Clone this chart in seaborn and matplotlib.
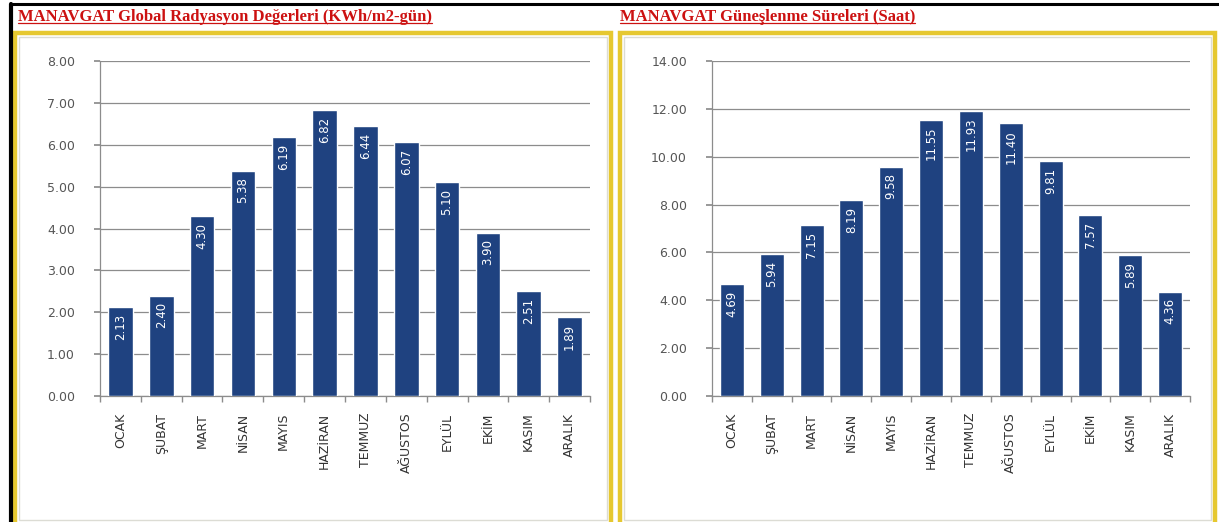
import numpy as np
import pandas as pd
import matplotlib
matplotlib.use("Agg")
import matplotlib.pyplot as plt
import seaborn as sns
from matplotlib.patches import Rectangle
from matplotlib.lines import Line2D

months = ["OCAK", "ŞUBAT", "MART", "NİSAN", "MAYIS", "HAZİRAN",
          "TEMMUZ", "AĞUSTOS", "EYLÜL", "EKİM", "KASIM", "ARALIK"]
radiation = [2.13, 2.40, 4.30, 5.38, 6.19, 6.82, 6.44, 6.07, 5.10, 3.90, 2.51, 1.89]
sunshine = [4.69, 5.94, 7.15, 8.19, 9.58, 11.55, 11.93, 11.40, 9.81, 7.57, 5.89, 4.36]

title_left = "MANAVGAT Global Radyasyon Değerleri (KWh/m2-gün)"
title_right = "MANAVGAT Güneşlenme Süreleri (Saat)"

W, H = 1219, 522
bar_color = "#1F4280"

sns.set_theme(style="white")
plt.rcParams['font.family'] = ['DejaVu Sans']

fig = plt.figure(figsize=(W / 100, H / 100), dpi=100)
fig.patch.set_facecolor("white")


def px_rect(x0, y0, x1, y1):
    # pixel box (top-left origin) -> figure fraction [left, bottom, width, height]
    return [x0 / W, 1 - y1 / H, (x1 - x0) / W, (y1 - y0) / H]


def frame(x0, y0, x1, y1, color, lw):
    l, b, w, h = px_rect(x0, y0, x1, y1)
    fig.patches.append(Rectangle((l, b), w, h, transform=fig.transFigure,
                                 fill=False, edgecolor=color, linewidth=lw, zorder=0))


def px_line(xs, ys, color, lw):
    fig.lines.append(Line2D([x / W for x in xs], [1 - y / H for y in ys],
                            transform=fig.transFigure, color=color, linewidth=lw))


# black border on top and left only, as in the screenshot
px_line([11, W], [4, 4], "black", 2.2)
px_line([11, 11], [4, H], "black", 3)

# yellow chart boxes with a light inner edge
frame(15, 33, 611, H + 3, "#E6C830", 3.2)
frame(19, 37, 607, H - 2, "#DCDCD4", 1.0)
frame(620, 33, 1215, H + 3, "#E6C830", 3.2)
frame(624, 37, 1211, H - 2, "#DCDCD4", 1.0)


def draw_panel(ax_box, values, ymax, step, title, title_x):
    ax = fig.add_axes(px_rect(*ax_box))
    df = pd.DataFrame({"month": months, "value": values})
    sns.barplot(data=df, x="month", y="value", color=bar_color, width=0.6,
                saturation=1, ax=ax, zorder=3)
    ax.set_ylim(0, ymax)
    ax.set_xlim(-0.5, len(months) - 0.5)
    ticks = np.arange(0, ymax + step / 2, step)
    ax.set_yticks(ticks)
    ax.set_yticklabels([f"{t:.2f}" for t in ticks], fontsize=9, color="#555555")
    ax.set_xticks(range(len(months)))
    ax.set_xticklabels(months, rotation=90, fontsize=9, color="#333333")
    ax.set_xlabel("")
    ax.set_ylabel("")
    ax.yaxis.grid(True, color="#8C8C8C", linewidth=0.9, zorder=0)
    ax.set_axisbelow(True)
    for s in ["top", "right"]:
        ax.spines[s].set_visible(False)
    for s in ["left", "bottom"]:
        ax.spines[s].set_color("#8C8C8C")
        ax.spines[s].set_linewidth(0.9)
    ax.tick_params(axis="y", length=4, color="#8C8C8C", pad=14, direction="out", left=True)
    ax.tick_params(axis="x", length=0, pad=12)
    # minor ticks between categories like the original chart
    ax.set_xticks(np.arange(-0.5, len(months), 1), minor=True)
    ax.tick_params(axis="x", which="minor", length=4, color="#8C8C8C", bottom=True)
    off = ymax * 0.02
    for i, v in enumerate(values):
        ax.text(i, v - off, f"{v:.2f}", rotation=90, ha="center", va="top",
                color="white", fontsize=8.5, zorder=5)

    t = fig.text(title_x / W, 1 - 17 / H, title, color="#CC1111", fontsize=12,
                 fontweight="bold", family="Liberation Serif", ha="left", va="center")
    fig.canvas.draw()
    bb = t.get_window_extent()
    inv = fig.transFigure.inverted()
    (x0, y0), (x1, y1) = inv.transform([[bb.x0, bb.y0], [bb.x1, bb.y1]])
    fig.lines.append(Line2D([x0, x1], [y0 + 0.004, y0 + 0.004], transform=fig.transFigure,
                            color="#CC1111", linewidth=0.9))
    return ax


draw_panel((100, 61, 590, 396), radiation, 8, 1, title_left, 18)
draw_panel((712, 61, 1190, 396), sunshine, 14, 2, title_right, 620)

fig.savefig("out.png", dpi=100, facecolor="white")
